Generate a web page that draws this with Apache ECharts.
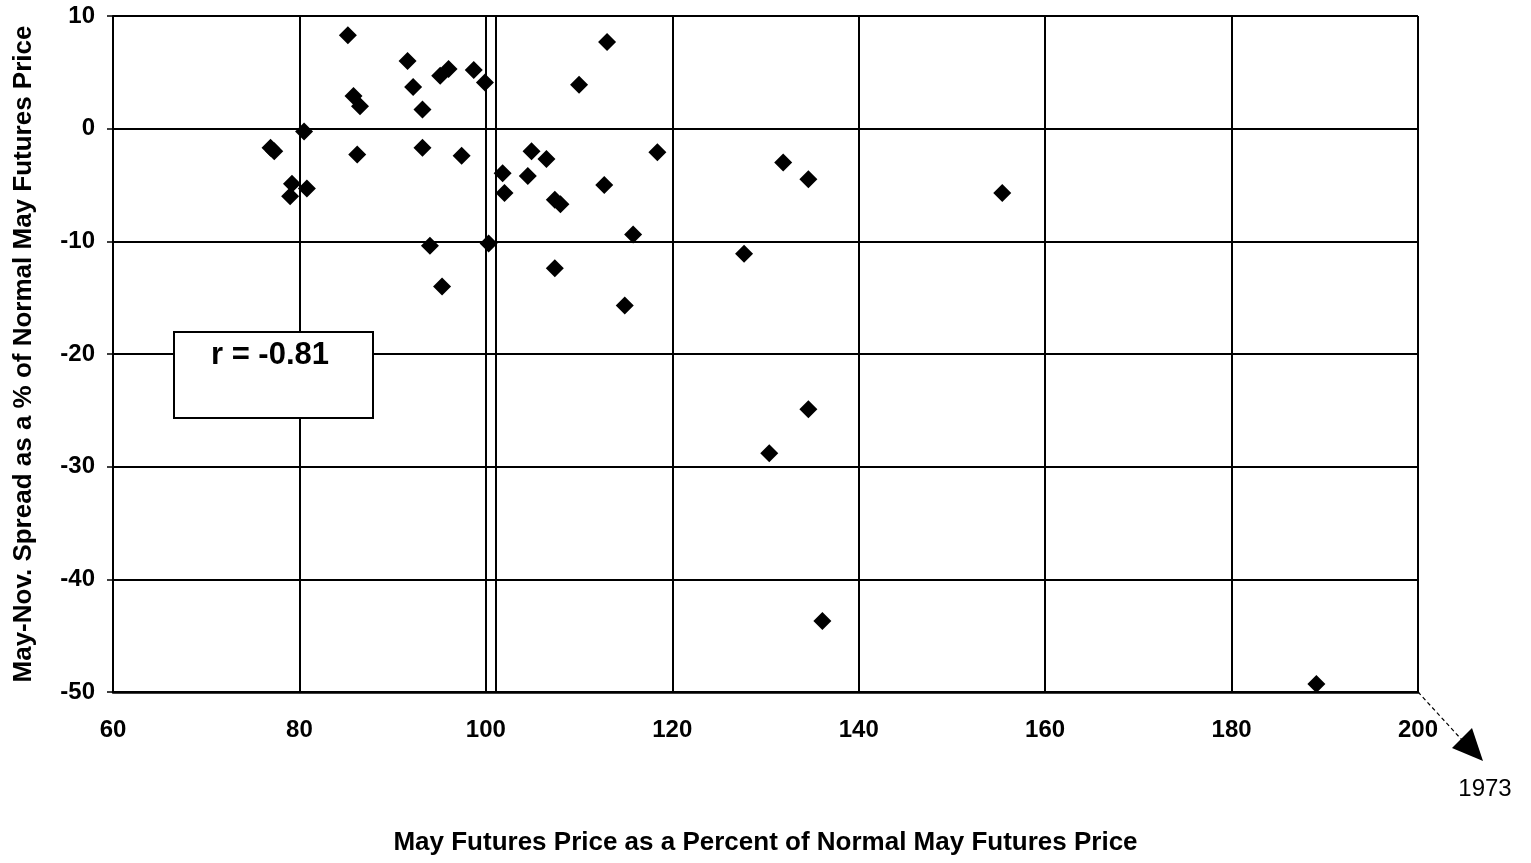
<!DOCTYPE html>
<html>
<head>
<meta charset="utf-8">
<title>May-Nov. Spread vs May Futures Price</title>
<script src="https://cdn.jsdelivr.net/npm/echarts@6/dist/echarts.min.js"></script>
<style>
  html, body { margin: 0; padding: 0; background: #fff; }
  #chart { width: 1531px; height: 863px; }
</style>
</head>
<body>
<div id="chart"></div>
<script>
// May futures price as % of normal (x) vs May-Nov spread as % of normal (y)
const pricePct = [
  85.2, 91.6, 92.2, 95.1, 96.0, 98.7, 99.9, 110.0, 113.0, 85.8,
  86.5, 93.2, 80.5, 76.9, 77.3, 86.2, 93.2, 97.4, 79.2, 79.0,
  80.8, 101.8, 102.0, 104.9, 104.5, 106.5, 107.4, 108.0, 94.0, 100.3,
  95.3, 107.4, 118.4, 131.9, 134.6, 112.7, 115.8, 127.7, 114.9, 155.4,
  134.6, 130.4, 136.1, 189.1
];
const spreadPct = [
  8.3, 6.0, 3.7, 4.7, 5.3, 5.2, 4.1, 3.9, 7.7, 2.9,
  2.0, 1.7, -0.25, -1.7, -2.0, -2.3, -1.7, -2.4, -4.9, -6.0,
  -5.3, -3.95, -5.7, -2.0, -4.2, -2.7, -6.3, -6.7, -10.4, -10.2,
  -14.0, -12.4, -2.1, -3.0, -4.5, -5.0, -9.4, -11.1, -15.7, -5.7,
  -24.9, -28.8, -43.7, -49.3
];
const xTicks = { min: 60, max: 200, step: 20 };
const yTicks = { min: -50, max: 10, step: 10 };
const extraLineX = 101.1;   // second vertical rule beside the 100 gridline
const corrText = 'r = -0.81';
const outlierText = '1973';

const points = pricePct.map((x, i) => [x, spreadPct[i]]);

const chart = echarts.init(document.getElementById('chart'), null, { renderer: 'canvas' });

const fontFamily = '"Liberation Sans", Arial, sans-serif';

chart.setOption({
  animation: false,
  backgroundColor: '#fff',
  grid: { left: 113, right: 113, top: 16, bottom: 171, containLabel: false },
  xAxis: {
    type: 'value',
    min: xTicks.min,
    max: xTicks.max,
    interval: xTicks.step,
    name: 'May Futures Price as a Percent of Normal May Futures Price',
    nameLocation: 'middle',
    nameGap: 138,
    nameTextStyle: { color: '#000', fontSize: 26, fontWeight: 'bold', fontFamily },
    axisLine: { onZero: false, lineStyle: { color: '#000', width: 2.5 } },
    axisTick: { show: false },
    axisLabel: { color: '#000', fontSize: 24, fontWeight: 'bold', fontFamily, margin: 26 },
    splitLine: { lineStyle: { color: '#000', width: 2 } }
  },
  yAxis: {
    type: 'value',
    min: yTicks.min,
    max: yTicks.max,
    interval: yTicks.step,
    name: 'May-Nov. Spread as a % of Normal May Futures Price',
    nameLocation: 'middle',
    nameGap: 76,
    nameTextStyle: { color: '#000', fontSize: 26, fontWeight: 'bold', fontFamily },
    axisLine: { show: true, onZero: false, lineStyle: { color: '#000', width: 2 } },
    axisTick: { show: true, length: 6, lineStyle: { color: '#000', width: 1.5 } },
    axisLabel: { color: '#000', fontSize: 24, fontWeight: 'bold', fontFamily, margin: 18 },
    splitLine: { lineStyle: { color: '#000', width: 2 } }
  },
  series: [
    {
      type: 'scatter',
      data: points,
      symbol: 'diamond',
      symbolSize: 18,
      itemStyle: { color: '#000', opacity: 1 },
      markLine: {
        silent: true,
        symbol: 'none',
        label: { show: false },
        lineStyle: { color: '#000', width: 2, type: 'solid' },
        data: [{ xAxis: extraLineX }]
      }
    }
  ],
  graphic: [
    {
      type: 'rect',
      shape: { x: 174, y: 332, width: 199, height: 86 },
      style: { fill: '#fff', stroke: '#000', lineWidth: 2 },
      z: 10
    },
    {
      type: 'text',
      x: 270, y: 355,
      style: {
        text: corrText, fill: '#000', font: 'bold 31px ' + fontFamily,
        align: 'center', verticalAlign: 'middle'
      },
      z: 11
    },
    {
      type: 'line',
      shape: { x1: 1418, y1: 692, x2: 1462, y2: 740 },
      style: { stroke: '#000', lineWidth: 1.2, lineDash: [4, 3] },
      z: 10
    },
    {
      type: 'polygon',
      shape: { points: [[1452, 748], [1472, 728], [1483, 761]] },
      style: { fill: '#000' },
      z: 10
    },
    {
      type: 'text',
      x: 1485, y: 789,
      style: {
        text: outlierText, fill: '#000', font: '24px ' + fontFamily,
        align: 'center', verticalAlign: 'middle'
      },
      z: 10
    }
  ]
});
</script>
</body>
</html>
